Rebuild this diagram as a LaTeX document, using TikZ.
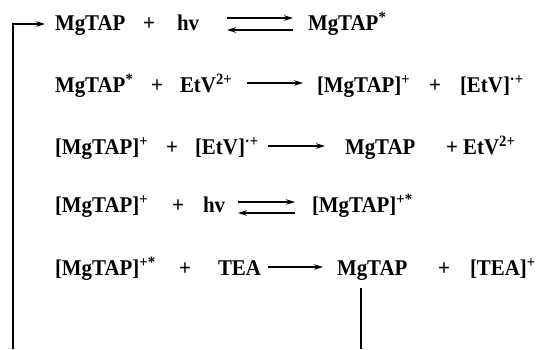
\documentclass[tikz,border=0pt]{standalone}
\usepackage{fontspec}
\setmainfont{Liberation Serif}
\usetikzlibrary{arrows.meta}
\newfontfamily\chemface{Liberation Serif}[FakeStretch=0.93]
\newcommand{\chemfont}{\chemface\bfseries\fontsize{22.5}{26}\selectfont}
\newcommand{\up}[1]{\textsuperscript{#1}}
\tikzset{
  species/.style={inner sep=0pt, outer sep=0pt, font=\chemfont, anchor=base west},
  plussign/.style={inner sep=0pt, outer sep=0pt, font=\chemfont, anchor=base},
  rxn/.style={line width=1.2pt, -{Stealth[length=9pt,width=5.5pt]}},
  cycle line/.style={line width=1.1pt}
}
\begin{document}
\begin{tikzpicture}[x=1pt, y=-1pt]
\useasboundingbox (0,0) rectangle (537,349);

% Step 1: photoexcitation of MgTAP
\node[species] (m1) at (55,30) {MgTAP};
\node[plussign] (p1) at (149,30) {+};
\node[species] (h1) at (177,30) {hv};
\node[species] (s1) at (308,30) {MgTAP\up{*}};
\coordinate (e1a) at (227,18); \coordinate (e1b) at (293,18);
\coordinate (e1c) at (293,30); \coordinate (e1d) at (227,30);
\draw[rxn] (e1a) -- (e1b);
\draw[rxn] (e1c) -- (e1d);

% Step 2: electron transfer to EtV2+
\node[species] (m2) at (55,92) {MgTAP\up{*}};
\node[plussign] (p2) at (157,92) {+};
\node[species] (v2) at (180,92) {EtV\up{2+}};
\node[species] (c2) at (317,92) {[MgTAP]\up{+}};
\node[plussign] (q2) at (435,92) {+};
\node[species] (r2) at (460,92) {[EtV]\up{·+}};
\coordinate (a2s) at (247,83); \coordinate (a2e) at (303,83);
\draw[rxn] (a2s) -- (a2e);

% Step 3: back electron transfer
\node[species] (m3) at (55,154) {[MgTAP]\up{+}};
\node[plussign] (p3) at (172,154) {+};
\node[species] (v3) at (195,154) {[EtV]\up{·+}};
\node[species] (c3) at (345,154) {MgTAP};
\node[species] (r3) at (446,154) {+ EtV\up{2+}};
\coordinate (a3s) at (268,146); \coordinate (a3e) at (325,146);
\draw[rxn] (a3s) -- (a3e);

% Step 4: photoexcitation of the cation
\node[species] (m4) at (55,212) {[MgTAP]\up{+}};
\node[plussign] (p4) at (178,212) {+};
\node[species] (h4) at (203,212) {hv};
\node[species] (s4) at (312,212) {[MgTAP]\up{+*}};
\coordinate (e4a) at (238,202); \coordinate (e4b) at (295,202);
\coordinate (e4c) at (295,213); \coordinate (e4d) at (238,213);
\draw[rxn] (e4a) -- (e4b);
\draw[rxn] (e4c) -- (e4d);

% Step 5: reduction by TEA regenerates MgTAP
\node[species] (m5) at (55,275) {[MgTAP]\up{+*}};
\node[plussign] (p5) at (185,275) {+};
\node[species] (t5) at (218,275) {TEA};
\node[species] (c5) at (337,275) {MgTAP};
\node[plussign] (q5) at (444,275) {+};
\node[species] (r5) at (470,275) {[TEA]\up{+}};
\coordinate (a5s) at (268,267); \coordinate (a5e) at (323,267);
\draw[rxn] (a5s) -- (a5e);

% Catalytic cycle return path
\coordinate (ret1) at (361,288);
\coordinate (ret2) at (361,349);
\draw[cycle line] (ret1) -- (ret2);
\coordinate (loop0) at (13,349);
\coordinate (loop1) at (45,24);
\draw[cycle line, -{Stealth[length=9pt,width=5.5pt]}] (loop0) |- (loop1);
\end{tikzpicture}
\end{document}
